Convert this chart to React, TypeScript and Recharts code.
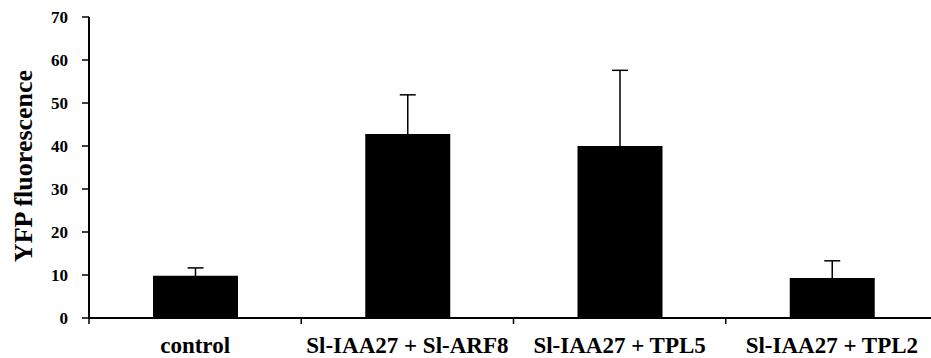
import { Bar, BarChart, ErrorBar, XAxis, YAxis } from 'recharts'

const categories = ['control', 'Sl-IAA27 + Sl-ARF8', 'Sl-IAA27 + TPL5', 'Sl-IAA27 + TPL2']
const means = [9.8, 42.8, 40.0, 9.3]
const errors = [1.85, 9.1, 17.6, 4.0]
const yTicks = [0, 10, 20, 30, 40, 50, 60, 70]

const data = categories.map((name, i) => ({ name, value: means[i], err: errors[i] }))

const font = '"Liberation Serif", "Times New Roman", serif'
const chartWidth = 950
const chartHeight = 358
const margin = { top: 17, right: 12, left: 0, bottom: 0 }
const yAxisWidth = 89
const halfBand = (chartWidth - margin.left - margin.right - yAxisWidth) / categories.length / 2

function CategoryTick(props: any) {
  const { x, y, payload } = props
  return (
    <g>
      <line x1={x - halfBand} x2={x - halfBand} y1={y} y2={y + 6} stroke="#000" strokeWidth={1.5} />
      <text x={x} y={y + 35} textAnchor="middle" fontFamily={font} fontWeight="bold" fontSize={23} fill="#000">
        {payload.value}
      </text>
    </g>
  )
}

function ValueTick(props: any) {
  const { x, y, payload } = props
  return (
    <text x={x} y={y} dy={6} textAnchor="end" fontFamily={font} fontWeight="bold" fontSize={17} fill="#000">
      {payload.value}
    </text>
  )
}

export default function App() {
  return (
    <div style={{ position: 'absolute', left: 0, top: 0, width: 931, height: chartHeight, overflow: 'hidden', background: '#fff' }}>
      <BarChart width={chartWidth} height={chartHeight} data={data} margin={margin}>
        <XAxis
          dataKey="name"
          height={40}
          axisLine={{ stroke: '#000', strokeWidth: 2 }}
          tickLine={false}
          tickSize={0}
          tickMargin={0}
          interval={0}
          tick={<CategoryTick />}
        />
        <YAxis
          width={yAxisWidth}
          domain={[0, 70]}
          ticks={yTicks}
          interval={0}
          axisLine={{ stroke: '#000', strokeWidth: 2 }}
          tickLine={{ stroke: '#000', strokeWidth: 1.5 }}
          tickSize={7}
          tickMargin={14}
          tick={<ValueTick />}
          label={{
            content: () => (
              <text
                x={32}
                y={166}
                transform="rotate(-90, 32, 166)"
                textAnchor="middle"
                fontFamily={font}
                fontWeight="bold"
                fontSize={26}
                fill="#000"
              >
                YFP fluorescence
              </text>
            ),
          }}
        />
        <Bar dataKey="value" fill="#000" barSize={85} isAnimationActive={false}>
          <ErrorBar dataKey="err" direction="y" width={8} stroke="#000" strokeWidth={1.5} />
        </Bar>
      </BarChart>
    </div>
  )
}
